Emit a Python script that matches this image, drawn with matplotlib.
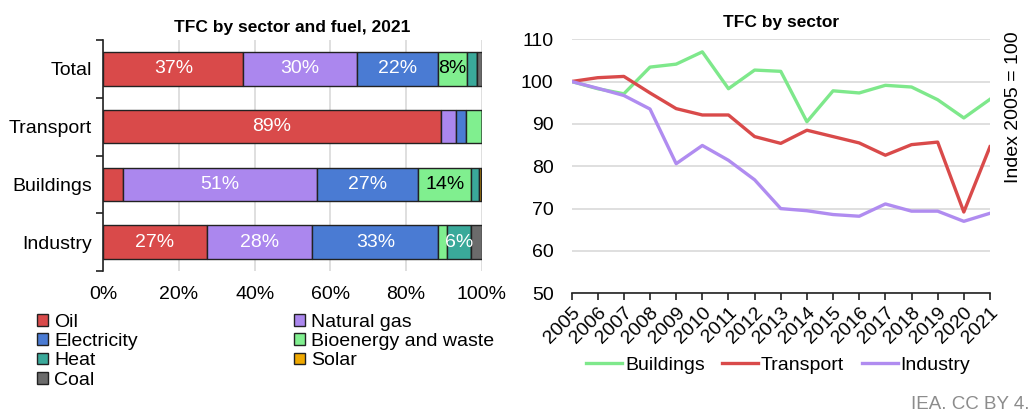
import numpy as np
import matplotlib.pyplot as plt
from matplotlib.patches import Patch

plt.rcParams['font.family'] = ['Liberation Sans', 'DejaVu Sans']

# left chart: share of TFC by fuel (%)
sectors = ['Total', 'Transport', 'Buildings', 'Industry']
fuels = ['Oil', 'Natural gas', 'Electricity', 'Bioenergy and waste', 'Heat', 'Solar', 'Coal']
oil = [37.0, 89.2, 5.1, 27.3]
natural_gas = [30.1, 3.9, 51.3, 27.9]
electricity = [21.5, 2.8, 26.9, 33.4]
bioenergy = [7.5, 4.1, 14.0, 2.3]
heat = [2.6, 0.0, 2.0, 6.4]
solar = [0.0, 0.0, 0.5, 0.0]
coal = [1.3, 0.0, 0.2, 2.7]
fuel_colors = ['#d94a4a', '#ab87ee', '#4a7bd3', '#80ef8f', '#3aa99a', '#efa800', '#6b6b6b']
label_colors = ['white', 'white', 'white', 'black', 'white', 'black', 'white']

# right chart: index 2005 = 100
years = list(range(2005, 2022))
buildings = [100, 98.3, 97.1, 103.4, 104.1, 107.0, 98.3, 102.7, 102.4, 90.5,
             97.8, 97.3, 99.1, 98.7, 95.7, 91.4, 95.8]
transport = [100, 100.9, 101.2, 97.3, 93.6, 92.1, 92.1, 87.0, 85.4, 88.5,
             87.0, 85.5, 82.6, 85.1, 85.7, 69.2, 84.6]
industry = [100, 98.4, 96.7, 93.5, 80.6, 84.9, 81.4, 76.8, 70.0, 69.5,
            68.6, 68.2, 71.1, 69.4, 69.4, 67.0, 68.9]

FS = 14
fig = plt.figure(figsize=(10.28, 4.12), dpi=100)

# ---- left: stacked bars
ax1 = fig.add_axes([0.1005, 0.342, 0.368, 0.561])
series = [oil, natural_gas, electricity, bioenergy, heat, solar, coal]
y = np.arange(len(sectors))
left = np.zeros(len(sectors))
for vals, col, tcol in zip(series, fuel_colors, label_colors):
    vals = np.array(vals)
    ax1.barh(y, vals, left=left, height=0.58, color=col, edgecolor='#222222',
             linewidth=1, zorder=3)
    for i, v in enumerate(vals):
        if v >= 6:
            ax1.text(left[i] + v / 2, y[i], f'{v:.0f}%', ha='center', va='center',
                     color=tcol, fontsize=FS, zorder=4)
    left += vals

ax1.set_xlim(0, 100)
ax1.set_ylim(3.5, -0.5)
ax1.set_xticks(np.arange(0, 101, 20))
ax1.set_xticklabels([f'{v}%' for v in range(0, 101, 20)], fontsize=FS)
ax1.tick_params(axis='x', length=0, pad=11)
ax1.set_yticks(y)
ax1.set_yticklabels(sectors, fontsize=FS)
ax1.set_yticks(np.arange(-0.5, 4, 1), minor=True)
ax1.tick_params(axis='y', which='major', length=0, pad=8)
ax1.tick_params(axis='y', which='minor', length=5, width=1.2, color='#222222')
ax1.grid(axis='x', color='#d9d9d9', linewidth=1.2, zorder=0)
for s in ['top', 'right', 'bottom']:
    ax1.spines[s].set_visible(False)
ax1.spines['left'].set_color('#222222')
ax1.spines['left'].set_linewidth(1.2)
ax1.set_title('TFC by sector and fuel, 2021', fontsize=12.5, fontweight='bold', pad=6)

order = [0, 2, 4, 6, 1, 3, 5]
handles = [Patch(facecolor=fuel_colors[i], edgecolor='#222222', linewidth=1) for i in order]
fig.legend(handles, [fuels[i] for i in order], ncol=2, loc='upper left',
           bbox_to_anchor=(0.027, 0.262), frameon=False, fontsize=FS,
           handlelength=0.55, handleheight=0.55, handletextpad=0.3,
           labelspacing=0.12, columnspacing=8.05, borderpad=0)

# ---- right: index lines
ax2 = fig.add_axes([0.556, 0.288, 0.407, 0.617])
ax2.plot(years, buildings, color='#7ee88b', linewidth=2.4, label='Buildings', zorder=3)
ax2.plot(years, transport, color='#d94a4a', linewidth=2.4, label='Transport', zorder=3)
ax2.plot(years, industry, color='#b08cf0', linewidth=2.4, label='Industry', zorder=3)
ax2.set_xlim(2005, 2021)
ax2.set_ylim(50, 110)
ax2.set_yticks(range(50, 111, 10))
ax2.set_xticks(years)
ax2.set_xticklabels([str(v) for v in years], rotation=45, ha='right',
                    rotation_mode='anchor', fontsize=FS)
ax2.tick_params(axis='y', length=0, labelsize=FS, pad=13)
ax2.tick_params(axis='x', length=5, width=1.2, color='#222222', pad=3)
ax2.grid(axis='y', color='#d9d9d9', linewidth=1.2, zorder=0)
for s in ['top', 'right', 'left']:
    ax2.spines[s].set_visible(False)
ax2.spines['bottom'].set_color('#222222')
ax2.spines['bottom'].set_linewidth(1.2)
ax2.set_title('TFC by sector', fontsize=12.5, fontweight='bold', pad=9)
fig.text(0.9855, 0.739, 'Index 2005 = 100', rotation=90, ha='center', va='center',
         fontsize=FS)

fig.legend(*ax2.get_legend_handles_labels(), ncol=3, loc='center',
           bbox_to_anchor=(0.757, 0.114), frameon=False, fontsize=FS,
           handlelength=1.85, handletextpad=0.15, columnspacing=0.9)

# source note, runs off the right edge as in the original
fig.text(0.886, 0.008, 'IEA. CC BY 4.0', color='#8c8c8c', fontsize=13.5)

fig.savefig('out.png', dpi=100)
